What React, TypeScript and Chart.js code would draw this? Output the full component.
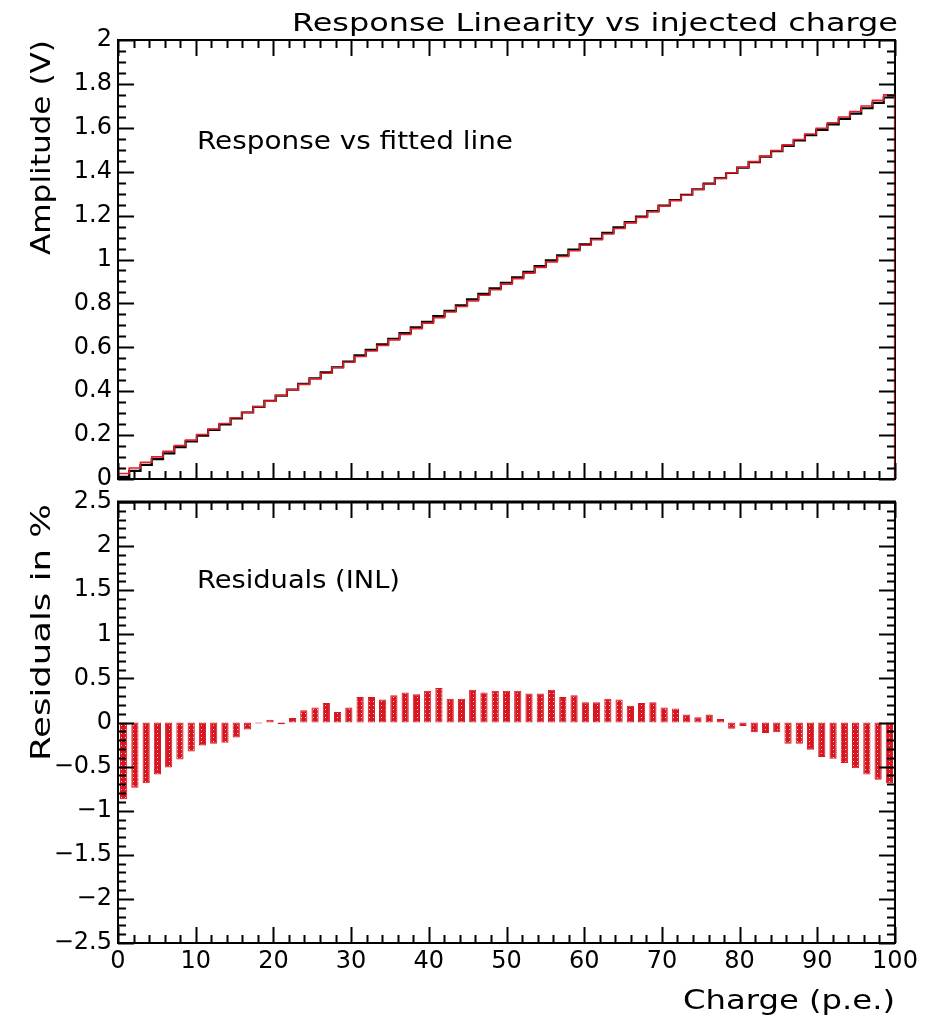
import React, { useEffect, useRef } from 'react';
import { Chart, registerables } from 'chart.js';

Chart.register(...registerables);

// ---------- texts ----------
const TITLE = 'Response Linearity vs injected charge';
const TOP_LABEL = 'Response vs fitted line';
const BOTTOM_LABEL = 'Residuals (INL)';
const TOP_Y_TITLE = 'Amplitude (V)';
const BOTTOM_Y_TITLE = 'Residuals in %';
const X_TITLE = 'Charge (p.e.)';

// ---------- axes ----------
const X_MIN = 0;
const X_MAX = 100;
const BIN_COUNT = 69;
const X_TICKS = [0, 10, 20, 30, 40, 50, 60, 70, 80, 90, 100];
const X_TICK_LABELS = ['0', '10', '20', '30', '40', '50', '60', '70', '80', '90', '100'];
const X_MINOR_STEP = 2;

const AMP_MIN = 0;
const AMP_MAX = 2;
const AMP_TICKS = [0, 0.2, 0.4, 0.6, 0.8, 1, 1.2, 1.4, 1.6, 1.8, 2];
const AMP_TICK_LABELS = ['0', '0.2', '0.4', '0.6', '0.8', '1', '1.2', '1.4', '1.6', '1.8', '2'];
const AMP_MINOR_STEP = 0.05;

const RES_MIN = -2.5;
const RES_MAX = 2.5;
const RES_TICKS = [-2.5, -2, -1.5, -1, -0.5, 0, 0.5, 1, 1.5, 2, 2.5];
const RES_TICK_LABELS = ['\u22122.5', '\u22122', '\u22121.5', '\u22121', '\u22120.5', '0', '0.5', '1', '1.5', '2', '2.5'];
const RES_MINOR_STEP = 0.1;

// ---------- data (one value per bin) ----------
const FIT = [
  0.025, 0.050, 0.076, 0.101, 0.126, 0.152, 0.177, 0.203, 0.228, 0.253,
  0.279, 0.304, 0.329, 0.355, 0.380, 0.406, 0.431, 0.456, 0.482, 0.507,
  0.532, 0.558, 0.583, 0.608, 0.634, 0.659, 0.685, 0.710, 0.735, 0.761,
  0.786, 0.811, 0.837, 0.862, 0.888, 0.913, 0.938, 0.964, 0.989, 1.014,
  1.040, 1.065, 1.090, 1.116, 1.141, 1.167, 1.192, 1.217, 1.243, 1.268,
  1.293, 1.319, 1.344, 1.370, 1.395, 1.420, 1.446, 1.471, 1.496, 1.522,
  1.547, 1.572, 1.598, 1.623, 1.649, 1.674, 1.699, 1.725, 1.750,
];

const RESPONSE = [
  0.010, 0.037, 0.064, 0.091, 0.117, 0.145, 0.171, 0.198, 0.224, 0.249,
  0.276, 0.303, 0.329, 0.356, 0.380, 0.407, 0.434, 0.459, 0.486, 0.509,
  0.535, 0.563, 0.588, 0.613, 0.639, 0.665, 0.691, 0.716, 0.742, 0.766,
  0.791, 0.818, 0.843, 0.868, 0.894, 0.919, 0.944, 0.970, 0.996, 1.019,
  1.045, 1.069, 1.094, 1.121, 1.146, 1.170, 1.196, 1.221, 1.246, 1.271,
  1.295, 1.320, 1.346, 1.371, 1.394, 1.419, 1.444, 1.469, 1.494, 1.518,
  1.543, 1.567, 1.591, 1.616, 1.641, 1.665, 1.689, 1.714, 1.738,
];

const RESIDUALS = [
  -0.87, -0.74, -0.69, -0.59, -0.51, -0.42, -0.33, -0.26, -0.24, -0.23,
  -0.17, -0.08, -0.01, 0.03, -0.02, 0.05, 0.14, 0.17, 0.22, 0.12,
  0.17, 0.29, 0.29, 0.26, 0.31, 0.34, 0.32, 0.36, 0.39, 0.27,
  0.27, 0.37, 0.34, 0.36, 0.36, 0.36, 0.33, 0.33, 0.37, 0.29,
  0.31, 0.23, 0.23, 0.27, 0.26, 0.19, 0.22, 0.23, 0.17, 0.16,
  0.09, 0.06, 0.09, 0.04, -0.07, -0.04, -0.11, -0.12, -0.11, -0.24,
  -0.24, -0.31, -0.39, -0.41, -0.46, -0.52, -0.59, -0.65, -0.69,
];

// ---------- style ----------
const FONT = '"DejaVu Sans", sans-serif';
const RED_LINE = 'rgb(226,30,40)';
const BAR_RED = 'rgb(214,22,32)';
const W = 938;
const TOP_CANVAS_H = 500;
const BOT_CANVAS_TOP = 480;
const BOT_CANVAS_H = 545;

const BIN_W = (X_MAX - X_MIN) / BIN_COUNT;

function stepPoints(values: number[]) {
  const pts: { x: number; y: number }[] = [{ x: X_MIN, y: 0 }];
  values.forEach((v, i) => pts.push({ x: X_MIN + i * BIN_W, y: v }));
  pts.push({ x: X_MAX, y: values[values.length - 1] });
  pts.push({ x: X_MAX, y: 0 });
  return pts;
}

type TextItem = {
  text: string;
  x: number;
  y: number;
  size: number;
  align: CanvasTextAlign;
  width?: number;
  rotate?: boolean;
};

function drawText(ctx: CanvasRenderingContext2D, t: TextItem) {
  ctx.save();
  ctx.translate(t.x, t.y);
  if (t.rotate) ctx.rotate(-Math.PI / 2);
  ctx.font = `${t.size}px ${FONT}`;
  ctx.fillStyle = '#000';
  ctx.textBaseline = 'alphabetic';
  const w = ctx.measureText(t.text).width;
  const sx = t.width ? t.width / w : 1;
  ctx.scale(sx, 1);
  ctx.textAlign = t.align;
  ctx.fillText(t.text, 0, 0);
  ctx.restore();
}

type PanelOpts = {
  yMin: number;
  yMax: number;
  yTicks: number[];
  yLabels: string[];
  yMinorStep: number;
  showXLabels: boolean;
  topBorder: number;
  texts: TextItem[];
};

function rootAxesPlugin(o: PanelOpts) {
  return {
    id: 'rootAxes',
    beforeDatasetsDraw(chart: any) {
      const ctx = chart.ctx as CanvasRenderingContext2D;
      const { left, right, top, bottom } = chart.chartArea;
      ctx.save();
      ctx.strokeStyle = '#000';
      ctx.lineWidth = 2;
      ctx.strokeRect(left, top, right - left, bottom - top);
      if (o.topBorder > 2) {
        ctx.lineWidth = o.topBorder;
        ctx.beginPath();
        ctx.moveTo(left - 1, top);
        ctx.lineTo(right + 1, top);
        ctx.stroke();
      }
      ctx.restore();
    },
    afterDatasetsDraw(chart: any) {
      const ctx = chart.ctx as CanvasRenderingContext2D;
      const { left, right, top, bottom } = chart.chartArea;
      const xs = chart.scales.x;
      const ys = chart.scales.y;
      ctx.save();
      ctx.strokeStyle = '#000';
      ctx.lineWidth = 2;
      ctx.beginPath();
      const nx = Math.round((X_MAX - X_MIN) / X_MINOR_STEP);
      for (let k = 0; k <= nx; k++) {
        const v = X_MIN + k * X_MINOR_STEP;
        const major = X_TICKS.some((t) => Math.abs(t - v) < 1e-6);
        const len = major ? 16 : 8;
        const px = Math.round(xs.getPixelForValue(v)) + 0.5;
        ctx.moveTo(px, bottom);
        ctx.lineTo(px, bottom - len);
        ctx.moveTo(px, top);
        ctx.lineTo(px, top + len);
      }
      const ny = Math.round((o.yMax - o.yMin) / o.yMinorStep);
      for (let k = 0; k <= ny; k++) {
        const v = o.yMin + k * o.yMinorStep;
        const major = o.yTicks.some((t) => Math.abs(t - v) < 1e-6);
        const len = major ? 16 : 8;
        const py = Math.round(ys.getPixelForValue(v)) + 0.5;
        ctx.moveTo(left, py);
        ctx.lineTo(left + len, py);
        ctx.moveTo(right, py);
        ctx.lineTo(right - len, py);
      }
      ctx.stroke();
      ctx.restore();
    },
    afterDraw(chart: any) {
      const ctx = chart.ctx as CanvasRenderingContext2D;
      const { left, bottom } = chart.chartArea;
      const xs = chart.scales.x;
      const ys = chart.scales.y;
      ctx.save();
      ctx.fillStyle = '#000';
      ctx.font = `24px ${FONT}`;
      ctx.textAlign = 'right';
      ctx.textBaseline = 'middle';
      o.yTicks.forEach((v, i) => {
        ctx.fillText(o.yLabels[i], left - 6, ys.getPixelForValue(v));
      });
      if (o.showXLabels) {
        ctx.textAlign = 'center';
        ctx.textBaseline = 'top';
        X_TICKS.forEach((v, i) => {
          ctx.fillText(X_TICK_LABELS[i], xs.getPixelForValue(v), bottom + 7);
        });
      }
      ctx.restore();
      o.texts.forEach((t) => drawText(ctx, t));
    },
  };
}

export default function App() {
  const topRef = useRef<HTMLCanvasElement>(null);
  const botRef = useRef<HTMLCanvasElement>(null);

  useEffect(() => {
    const topCanvas = topRef.current!;
    const botCanvas = botRef.current!;

    const topChart = new Chart(topCanvas, {
      type: 'line',
      data: {
        datasets: [
          {
            label: 'Fitted line',
            data: stepPoints(FIT),
            borderColor: RED_LINE,
            borderWidth: 1.6,
            stepped: 'before',
            pointRadius: 0,
            fill: false,
          },
          {
            label: 'Response',
            data: stepPoints(RESPONSE),
            borderColor: '#000',
            borderWidth: 2.2,
            stepped: 'before',
            pointRadius: 0,
            fill: false,
          },
        ],
      } as any,
      options: {
        responsive: false,
        animation: false,
        devicePixelRatio: 1,
        layout: { padding: { left: 118, right: 43, top: 40, bottom: 21 } },
        scales: {
          x: { type: 'linear', min: X_MIN, max: X_MAX, display: false },
          y: { type: 'linear', min: AMP_MIN, max: AMP_MAX, display: false },
        },
        plugins: { legend: { display: false }, tooltip: { enabled: false } },
      } as any,
      plugins: [
        rootAxesPlugin({
          yMin: AMP_MIN,
          yMax: AMP_MAX,
          yTicks: AMP_TICKS,
          yLabels: AMP_TICK_LABELS,
          yMinorStep: AMP_MINOR_STEP,
          showXLabels: false,
          topBorder: 2,
          texts: [
            { text: TITLE, x: 898, y: 31, size: 25, align: 'right', width: 606 },
            { text: TOP_LABEL, x: 197, y: 149, size: 24, align: 'left', width: 316 },
            { text: TOP_Y_TITLE, x: 50, y: 40, size: 27, align: 'right', width: 215, rotate: true },
          ],
        }) as any,
      ],
    });

    const tile = document.createElement('canvas');
    tile.width = 4;
    tile.height = 4;
    const tg = tile.getContext('2d')!;
    tg.fillStyle = BAR_RED;
    tg.fillRect(0, 0, 4, 4);
    tg.fillStyle = 'rgb(250,200,200)';
    tg.fillRect(1, 1, 1, 1);
    const pattern = botCanvas.getContext('2d')!.createPattern(tile, 'repeat');

    const botChart = new Chart(botCanvas, {
      type: 'bar',
      data: {
        datasets: [
          {
            label: 'Residuals',
            data: RESIDUALS.map((r, i) => ({ x: X_MIN + (i + 0.5) * BIN_W, y: r })),
            backgroundColor: pattern,
            borderColor: BAR_RED,
            borderWidth: 1,
            borderSkipped: false,
            barPercentage: 0.64,
            categoryPercentage: 1,
          },
        ],
      } as any,
      options: {
        responsive: false,
        animation: false,
        devicePixelRatio: 1,
        layout: { padding: { left: 118, right: 43, top: 22, bottom: 82 } },
        scales: {
          x: { type: 'linear', min: X_MIN, max: X_MAX, offset: false, display: false },
          y: { type: 'linear', min: RES_MIN, max: RES_MAX, display: false },
        },
        plugins: { legend: { display: false }, tooltip: { enabled: false } },
      } as any,
      plugins: [
        rootAxesPlugin({
          yMin: RES_MIN,
          yMax: RES_MAX,
          yTicks: RES_TICKS,
          yLabels: RES_TICK_LABELS,
          yMinorStep: RES_MINOR_STEP,
          showXLabels: true,
          topBorder: 3,
          texts: [
            { text: BOTTOM_LABEL, x: 197, y: 108, size: 24, align: 'left', width: 203 },
            { text: BOTTOM_Y_TITLE, x: 50, y: 24, size: 27, align: 'right', width: 257, rotate: true },
            { text: X_TITLE, x: 895, y: 529, size: 26, align: 'right', width: 212 },
          ],
        }) as any,
      ],
    });

    return () => {
      topChart.destroy();
      botChart.destroy();
    };
  }, []);

  return (
    <div style={{ position: 'absolute', left: 0, top: 0, width: W, height: 1025, background: '#fff' }}>
      <canvas
        ref={topRef}
        width={W}
        height={TOP_CANVAS_H}
        style={{ position: 'absolute', left: 0, top: 0, width: W, height: TOP_CANVAS_H }}
      />
      <canvas
        ref={botRef}
        width={W}
        height={BOT_CANVAS_H}
        style={{ position: 'absolute', left: 0, top: BOT_CANVAS_TOP, width: W, height: BOT_CANVAS_H }}
      />
    </div>
  );
}
